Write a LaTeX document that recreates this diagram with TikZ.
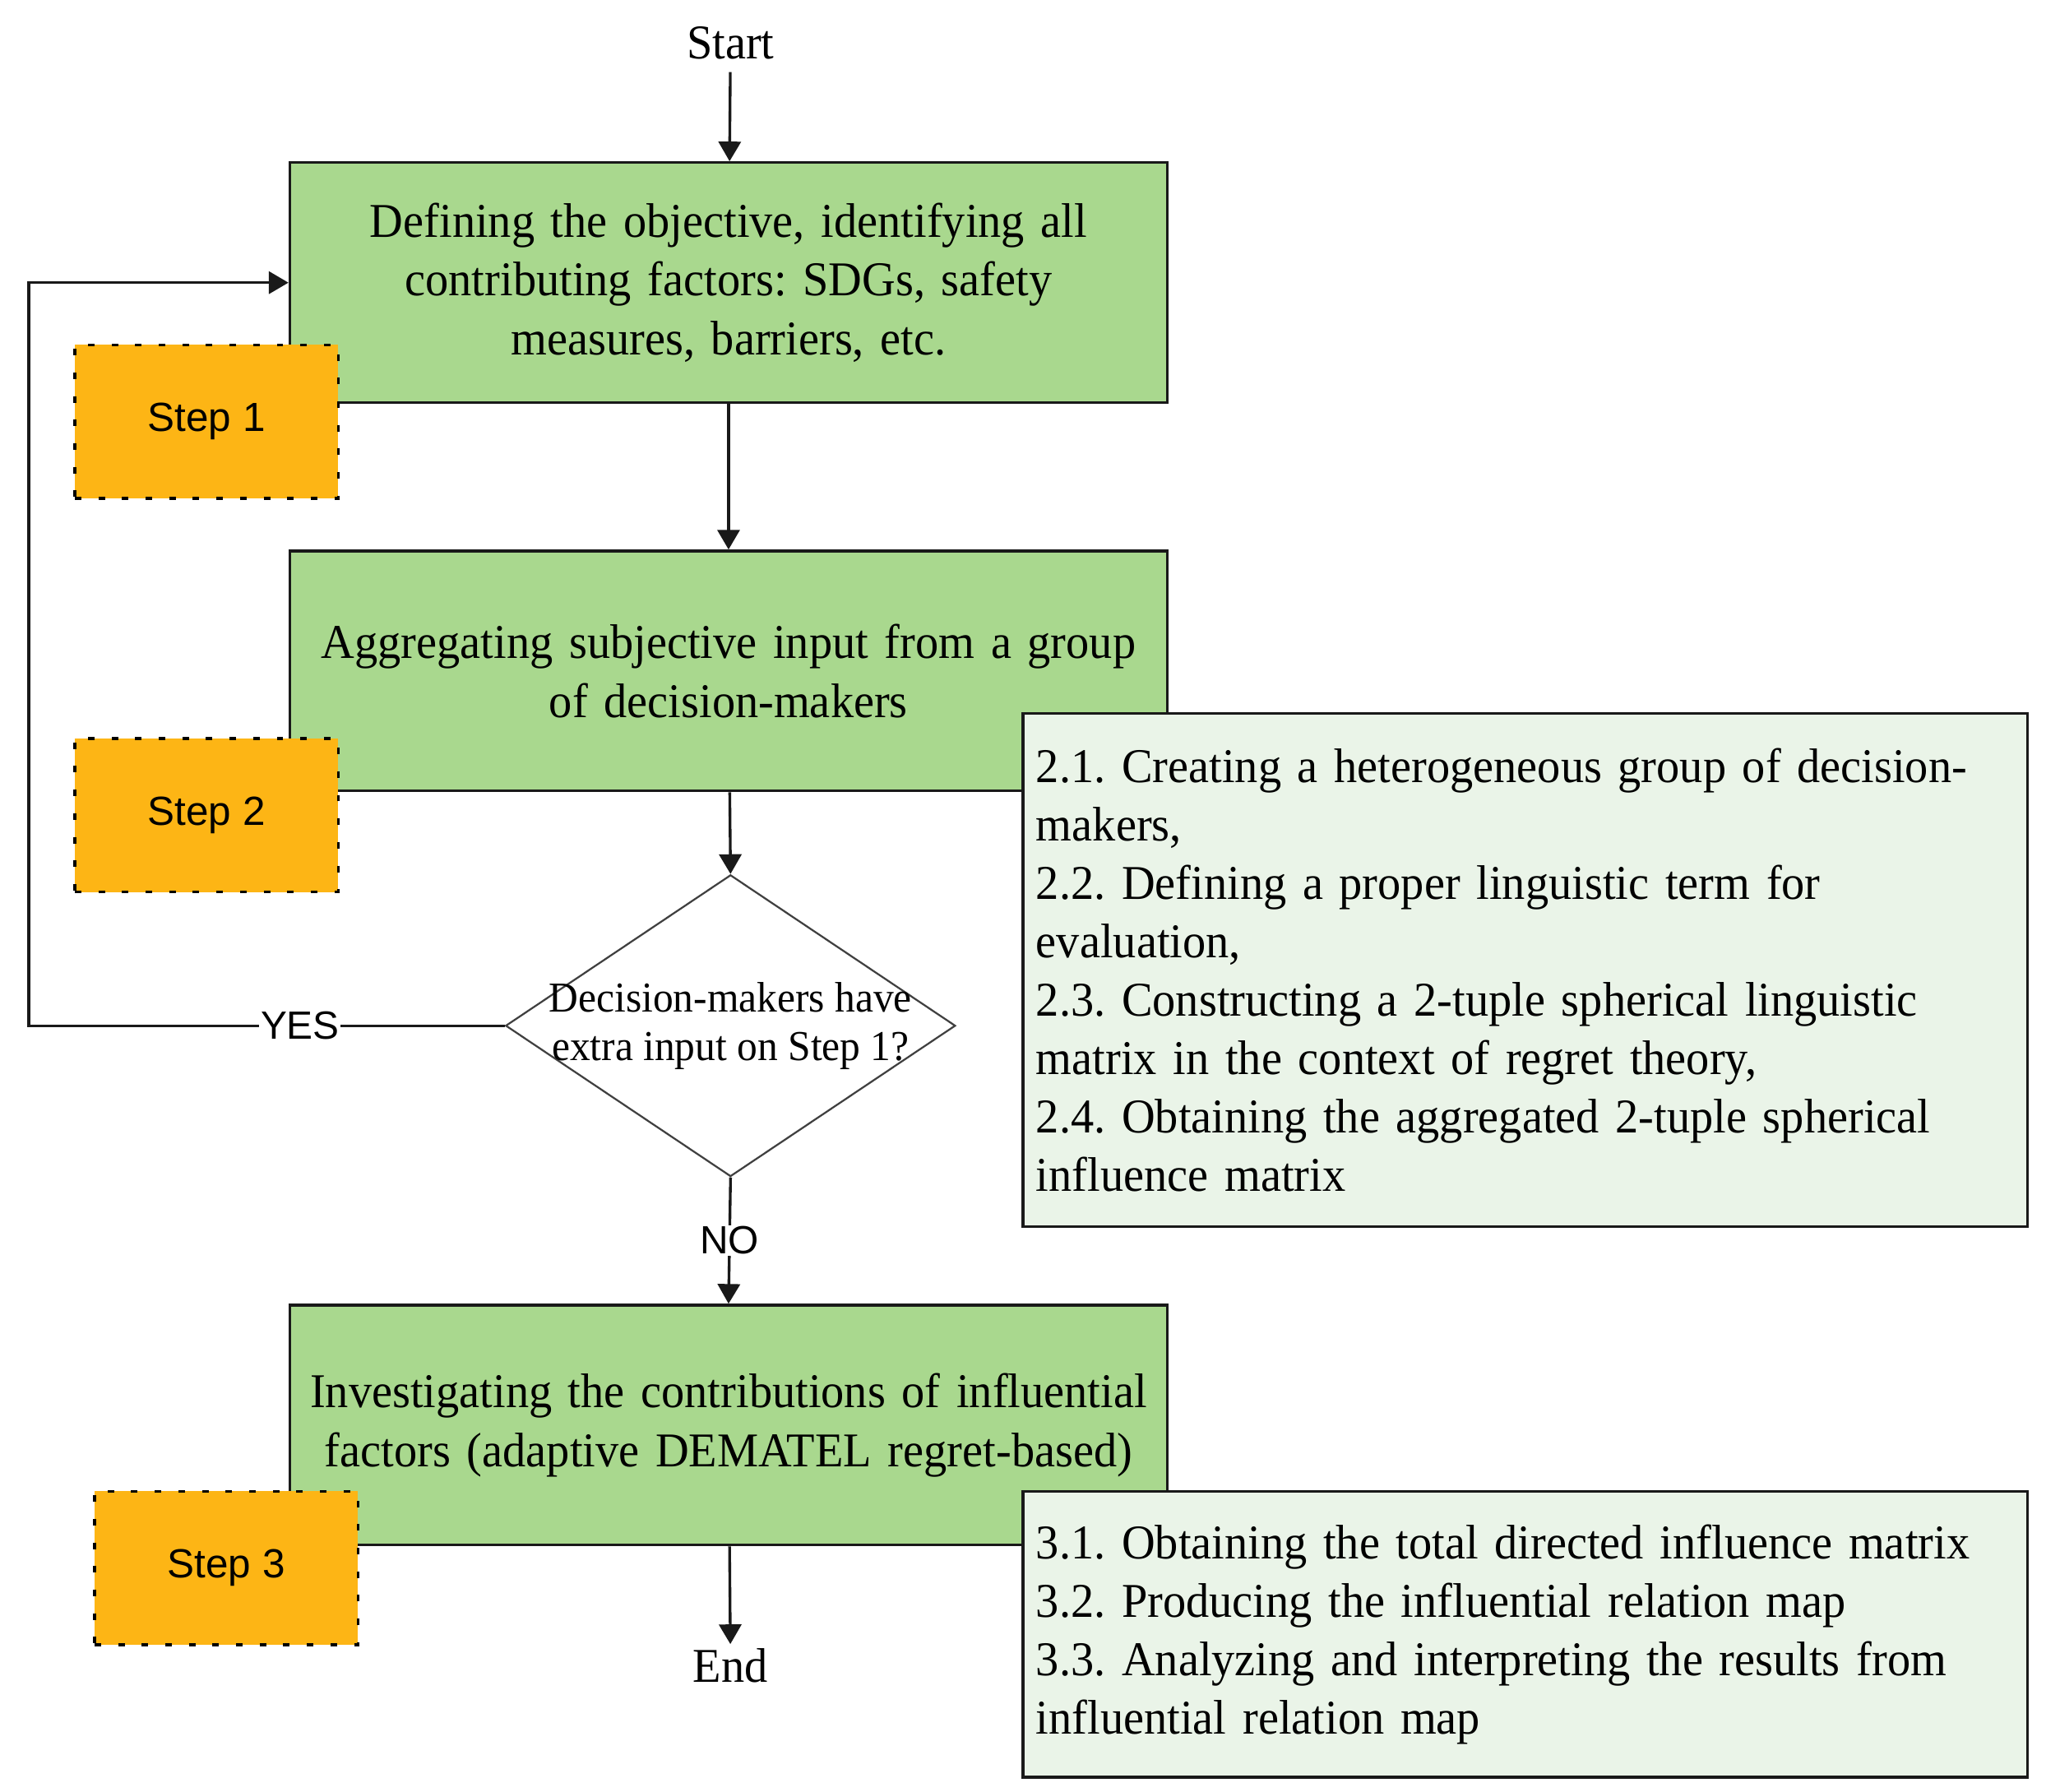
\documentclass[tikz,border=0pt]{standalone}
\usepackage{fontspec}
\setmainfont[FakeStretch=0.955]{Liberation Serif}
\newfontfamily\stepfont{Liberation Sans}
\usetikzlibrary{shapes.geometric,arrows.meta}
\definecolor{boxgreen}{HTML}{A9D88E}
\definecolor{subgreen}{HTML}{EAF4E8}
\definecolor{steporange}{HTML}{FDB515}
\newcommand{\nohyph}{\hyphenpenalty=10000 \exhyphenpenalty=10000 \frenchspacing}
\tikzset{
  mainbox/.style={draw=black!90, line width=2.1pt, fill=boxgreen, minimum width=669pt, minimum height=183pt,
    inner sep=0pt, text width=665pt, align=center, font=\nohyph\fontsize{37pt}{45pt}\selectfont},
  subbox/.style={draw=black!90, line width=2.1pt, fill=subgreen, minimum width=766pt,
    inner xsep=10pt, inner ysep=0pt, text width=746pt, align=left, font=\nohyph\fontsize{37pt}{44.5pt}\selectfont},
  stepbox/.style={draw=black, line width=2.2pt, dash pattern=on 5pt off 13pt, fill=steporange,
    minimum width=201pt, minimum height=117pt, inner sep=0pt, font=\stepfont\fontsize{31pt}{37pt}\selectfont},
  arr/.style={draw=black!90, line width=2.1pt, -{Triangle[length=15pt,width=17pt]}},
  lbl/.style={font=\fontsize{37pt}{45pt}\selectfont},
  yn/.style={fill=white, inner sep=1pt, font=\stepfont\fontsize{30pt}{36pt}\selectfont},
}
\begin{document}
\begin{tikzpicture}[x=1pt,y=-1pt]
\useasboundingbox (0,0) rectangle (1560,1366);
% terminals
\node[lbl] (start) at (557,33) {Start};
\node[lbl] (end) at (557,1270) {End};
% main boxes
\node[mainbox] (box1) at (555.5,215.5) {Defining the objective, identifying all\\contributing factors: SDGs, safety\\measures, barriers, etc.};
\node[mainbox] (box2) at (555.5,511.5) {Aggregating subjective input from a group\\of decision-makers};
\node[mainbox] (box3) at (555.5,1086.5) {Investigating the contributions of influential\\factors (adaptive DEMATEL regret-based)};
% decision
\node[draw=black!75, line width=1.4pt, shape=diamond, minimum width=343pt, minimum height=230pt, inner sep=0pt,
  label={[align=center, font=\frenchspacing\fontsize{32.5pt}{37pt}\selectfont]center:Decision-makers have\\extra input on Step 1?}] (dec) at (557,782) {};
% sub boxes
\node[subbox, minimum height=391pt] (sub2) at (1163,739.5) {2.1. Creating a heterogeneous group of decision-\\makers,\\2.2. Defining a proper linguistic term for\\evaluation,\\2.3. Constructing a 2-tuple spherical linguistic\\matrix in the context of regret theory,\\2.4. Obtaining the aggregated 2-tuple spherical\\influence matrix};
\node[subbox, minimum height=218pt] (sub3) at (1163,1246) {3.1. Obtaining the total directed influence matrix\\3.2. Producing the influential relation map\\3.3. Analyzing and interpreting the results from\\influential relation map};
% step labels
\node[stepbox] (s1) at (157.5,321.5) {Step 1};
\node[stepbox] (s2) at (157.5,621.5) {Step 2};
\node[stepbox] (s3) at (172.5,1195.5) {Step 3};
% connectors
\coordinate (loop) at (22,782);
\draw[arr, shorten <=6pt] (start) -- (box1);
\draw[arr] (box1) -- (box2);
\draw[arr] (box2) -- (dec.north);
\draw[arr] (dec.south) -- node[yn] {NO} (box3.north);
\draw[arr] (dec.west) -- node[yn, pos=0.43] {YES} (loop) |- (box1.west);
\draw[arr] (box3) -- (end);
\end{tikzpicture}
\end{document}
